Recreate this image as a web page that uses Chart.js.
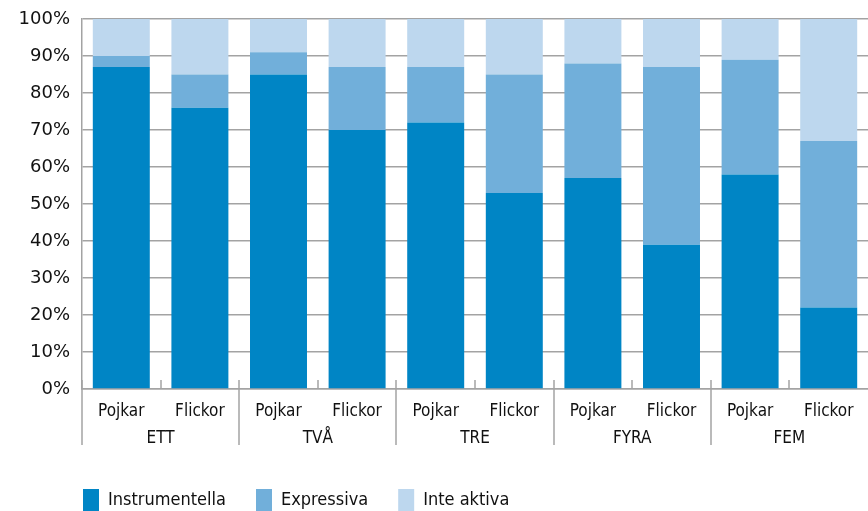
<!DOCTYPE html>
<html lang="sv">
<head>
<meta charset="utf-8">
<title>Instrumentella, expressiva och inte aktiva</title>
<script src="https://cdn.jsdelivr.net/npm/chart.js@4.4.1/dist/chart.umd.min.js"></script>
<style>
  html, body { margin: 0; padding: 0; background: #ffffff; }
  #wrap { width: 868px; height: 511px; }
</style>
</head>
<body>
<div id="wrap"><canvas id="chart"></canvas></div>
<script>
"use strict";

// Data (percent, each bar sums to 100)
const groups = ['ETT', 'TVÅ', 'TRE', 'FYRA', 'FEM'];
const categories = ['Pojkar', 'Flickor', 'Pojkar', 'Flickor', 'Pojkar', 'Flickor', 'Pojkar', 'Flickor', 'Pojkar', 'Flickor'];
const instrumentella = [87, 76, 85, 70, 72, 53, 57, 39, 58, 22];
const expressiva = [3, 9, 6, 17, 15, 32, 31, 48, 31, 45];
const inteAktiva = [10, 15, 9, 13, 13, 15, 12, 13, 11, 33];
const yTicks = [0, 10, 20, 30, 40, 50, 60, 70, 80, 90, 100];

const gridGrey = '#a3a3a3';
const textColor = '#111111';
const narrowFont = "'Liberation Sans Narrow', 'DejaVu Sans Condensed', 'Liberation Sans', sans-serif";

// Separators below the x axis: short marks between bars, long ones between groups
const groupLines = {
    id: 'groupLines',
    afterLayout(chart) {
        // line the legend up with the left edge of the plot
        chart.legend.left = chart.chartArea.left - 29;
    },
    afterDraw(chart) {
        const x = chart.scales.x;
        const ctx = chart.ctx;
        ctx.save();
        ctx.strokeStyle = gridGrey;
        ctx.lineWidth = 1.5;
        for (let i = 0; i < categories.length; i++) {
            const px = Math.round(x.getPixelForValue(i - 0.5));
            ctx.beginPath();
            ctx.moveTo(px, x.top - 9);
            ctx.lineTo(px, i % 2 === 0 ? x.top + 56 : x.top);
            ctx.stroke();
        }
        ctx.restore();
    }
};

new Chart(document.getElementById('chart'), {
    type: 'bar',
    data: {
        labels: categories,
        datasets: [
            { label: 'Instrumentella', data: instrumentella, backgroundColor: '#0085c5' },
            { label: 'Expressiva', data: expressiva, backgroundColor: '#71afda' },
            { label: 'Inte aktiva', data: inteAktiva, backgroundColor: '#bdd7ee' }
        ]
    },
    options: {
        responsive: true,
        maintainAspectRatio: false,
        animation: false,
        datasets: {
            bar: { barPercentage: 0.725, categoryPercentage: 1.0, borderWidth: 0 }
        },
        layout: { padding: { top: 19, right: 0, left: 0, bottom: -10 } },
        plugins: {
            tooltip: { enabled: false },
            legend: {
                position: 'bottom',
                align: 'start',
                labels: {
                    color: textColor,
                    font: { family: narrowFont, size: 18 },
                    boxWidth: 16,
                    boxHeight: 22,
                    padding: 30
                }
            }
        },
        scales: {
            x: {
                stacked: true,
                weight: 0,
                afterFit(scale) { scale.height = 34; },
                grid: { display: false, drawTicks: false },
                border: { display: true, color: gridGrey, width: 1.5 },
                ticks: {
                    color: textColor,
                    font: { family: narrowFont, size: 17 },
                    padding: 12,
                    maxRotation: 0,
                    autoSkip: false
                }
            },
            x2: {
                type: 'category',
                labels: groups,
                position: 'bottom',
                weight: 1,
                offset: true,
                afterFit(scale) { scale.height = 36; },
                grid: { display: false, drawTicks: false },
                border: { display: false },
                ticks: {
                    color: textColor,
                    font: { family: narrowFont, size: 17 },
                    padding: 5,
                    maxRotation: 0
                }
            },
            y: {
                stacked: true,
                min: 0,
                max: 100,
                afterFit(scale) {
                    scale.width = 82;
                    scale.paddingTop = 0;
                },
                afterBuildTicks(scale) {
                    scale.ticks = yTicks.map(v => ({ value: v }));
                },
                grid: { color: gridGrey, lineWidth: 1.5, drawTicks: false },
                border: { display: true, color: gridGrey, width: 1.5 },
                ticks: {
                    color: textColor,
                    font: { family: "'DejaVu Sans', sans-serif", size: 18 },
                    padding: 12,
                    callback: v => v + '%'
                }
            }
        }
    },
    plugins: [groupLines]
});
</script>
</body>
</html>
